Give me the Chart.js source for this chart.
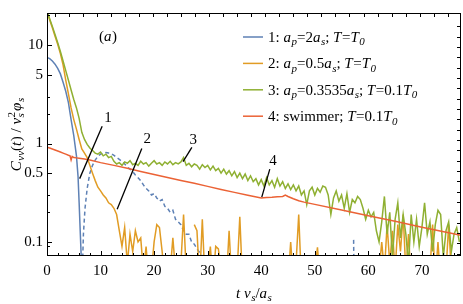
<!DOCTYPE html>
<html>
<head>
<meta charset="utf-8">
<title>Velocity autocorrelation</title>
<script src="https://cdn.jsdelivr.net/npm/chart.js@4.4.1/dist/chart.umd.min.js"></script>
<style>
  body { margin: 0; background: #fff; }
  canvas { display: block; }
</style>
</head>
<body>
<canvas id="vacfChart" width="463" height="304"></canvas>
<script>
// ---- values ----
const xTicks = [0, 10, 20, 30, 40, 50, 60, 70];
const yTicks = [0.1, 0.5, 1, 5, 10];
const yMinorTicks = [0.09, 0.2, 0.3, 2, 3, 20];

// 1: a_p = 2a_s; T = T0  (solid part, then |C| dashed where it goes negative)
const s1T = [0, 0.5, 1, 1.5, 2, 2.5, 3, 3.5, 4, 4.5, 5, 5.5, 5.8, 6.0, 6.2, 6.5];
const s1V = [7.5, 7.3, 6.9, 6.4, 5.8, 5.1, 4.2, 3.4, 2.6, 1.75, 1.2, 0.75, 0.46, 0.25, 0.13, 0.05];
const s1DashT = [6.6, 6.8, 7.1, 7.5, 8, 8.5, 9, 9.5, 10, 10.5, 11, 11.5, 12, 12.5, 13, 13.5, 14, 14.5,
  15, 15.5, 16, 16.5, 17, 17.5, 18, 18.5, 19, 19.5, 20, 20.5, 21, 21.5, 22, 22.5, 23, 23.5, 24, 24.5,
  25, 25.5, 26, 26.5, 27, 27.5, 28, 28.5, 29, 29.5, 30, 57.25, 57.3];
const s1DashV = [0.05, 0.12, 0.22, 0.35, 0.5, 0.6, 0.68, 0.74, 0.78, 0.8, 0.81, 0.8, 0.79, 0.76, 0.72, 0.69, 0.66, 0.62,
  0.58, 0.55, 0.52, 0.48, 0.45, 0.42, 0.38, 0.35, 0.33, 0.3, 0.31, 0.28, 0.26, 0.27, 0.23, 0.22, 0.2, 0.21, 0.17, 0.16,
  0.15, 0.13, 0.12, 0.12, 0.1, 0.095, 0.085, 0.078, 0.072, 0.06, null, 0.105, 0.06];

// 2: a_p = 0.5a_s; T = T0  (smooth head, then noisy tail sampled every 0.5)
const s2T = [0, 0.5, 1, 1.5, 2, 2.5, 3, 3.5, 4, 4.5, 5, 5.5, 6, 6.5, 7, 7.5, 8, 8.5, 9, 9.5, 10, 10.5, 11, 11.5, 12, 12.5];
const s2V = [22, 18, 15, 12.3, 10.2, 8.2, 6.3, 4.4, 3.2, 2.3, 1.75, 1.4, 1.1, 0.88, 0.8, 0.72, 0.6, 0.5, 0.42, 0.36,
  0.33, 0.3, 0.28, 0.25, 0.24, 0.22];
const s2TailStart = 13;
const s2Tail = [
  0.19, 0.13, 0.09, 0.14, 0.06, 0.12, 0.08, 0.13, 0.10, 0.11,
  0.05, 0.09, 0.04, 0.05, 0.10, 0.15, 0.14, 0.08, 0.04, 0.04,
  0.05, 0.11, 0.05, 0.04, 0.06, 0.19, 0.05, 0.04, null, 0.15,
  0.13, 0.04, 0.17, 0.04, 0.05, 0.09, 0.04, 0.09, 0.085, 0.05,
  0.04, 0.04, 0.13, 0.04, 0.04, 0.05, 0.18, 0.04, 0.04, 0.03,
  0.04, 0.05, 0.04, 0.03, 0.04, 0.05, 0.04, 0.03, 0.04, 0.05,
  0.04, 0.03, 0.04, 0.05, 0.04, 0.10, 0.04, 0.06, 0.19, 0.04,
  0.03, 0.04, 0.05, 0.04, 0.05, 0.088, 0.04, 0.03, 0.04, 0.05,
  0.04, 0.03, 0.04, 0.05, 0.04, 0.03, 0.04, 0.05, 0.04, 0.03,
  0.04, 0.05, 0.04, 0.03, 0.04, 0.05, 0.04, 0.03, 0.05, 0.10,
  0.05, 0.15, 0.06, 0.13, 0.05, 0.15, 0.08, 0.19, 0.05, 0.12,
  0.04, 0.03, 0.04, 0.05, 0.04, 0.03, 0.04, 0.05, 0.15, 0.04,
  0.10, 0.04, 0.03, 0.05, 0.15, 0.05, 0.04, 0.03, 0.04
];

// 3: a_p = 0.3535a_s; T = 0.1T0
const s3T = [0, 0.5, 1, 1.5, 2, 2.5, 3, 3.5, 4, 4.5, 5, 5.5, 6, 6.5, 7, 7.5, 8, 8.5, 9, 9.5, 10, 10.5, 11, 11.5, 12];
const s3V = [22, 18.5, 15.5, 12.8, 10.6, 8.6, 6.9, 5.5, 4.4, 3.5, 2.8, 2.3, 1.8, 1.3, 1.1, 0.98, 0.9, 0.85, 0.8, 0.78,
  0.82, 0.75, 0.78, 0.72, 0.74];
const s3TailStart = 12.5;
const s3Tail = [
  0.66, 0.62, 0.64, 0.60, 0.65, 0.63, 0.67, 0.61, 0.63, 0.60,
  0.66, 0.62, 0.64, 0.59, 0.63, 0.67, 0.62, 0.64, 0.60, 0.65,
  0.62, 0.66, 0.61, 0.64, 0.62, 0.65, 0.72, 0.60, 0.63, 0.58,
  0.62, 0.60, 0.55, 0.61, 0.57, 0.60, 0.54, 0.59, 0.53, 0.56,
  0.50, 0.55, 0.49, 0.53, 0.47, 0.52, 0.45, 0.50, 0.44, 0.49,
  0.42, 0.47, 0.41, 0.44, 0.38, 0.43, 0.37, 0.45, 0.38, 0.42,
  0.36, 0.44, 0.37, 0.41, 0.35, 0.39, 0.34, 0.38, 0.33, 0.37,
  0.30, 0.33, 0.24, 0.33, 0.36, 0.30, 0.35, 0.32, 0.37, 0.36,
  0.30, 0.19, 0.28, 0.33, 0.26, 0.30, 0.22, 0.31, 0.20, 0.27,
  0.25, 0.29, 0.27, 0.22, 0.17, 0.21, 0.18, 0.20, 0.13, 0.10,
  0.16, 0.29, 0.12, 0.20, 0.07, 0.17, 0.25, 0.11, 0.19, 0.12,
  0.06, 0.19, 0.10, 0.17, 0.09, 0.14, 0.25, 0.12, 0.16, 0.08,
  0.15, 0.21, 0.19, 0.07, 0.13, 0.16, 0.08, 0.12, 0.14, 0.10
];

// 4: swimmer; T = 0.1T0
const s4T = [0, 0.5, 1, 1.5, 2, 2.5, 3, 3.5, 4, 4.3, 4.5, 4.7, 5, 5.5, 6, 7, 8, 10, 12.5, 15, 17.5, 20, 22.5, 25,
  27.5, 30, 32.5, 35, 37.5, 40, 41, 42, 43, 44, 44.5, 45, 46, 47, 48, 50, 55, 60, 65, 70, 75, 77.3];
const s4V = [0.92, 0.9, 0.88, 0.86, 0.84, 0.82, 0.8, 0.78, 0.76, 0.75, 0.68, 0.74, 0.72, 0.715, 0.71, 0.695, 0.68,
  0.64, 0.6, 0.56, 0.52, 0.485, 0.452, 0.422, 0.394, 0.367, 0.342, 0.319, 0.298, 0.28, 0.283, 0.285, 0.288, 0.29,
  0.3, 0.29, 0.275, 0.262, 0.254, 0.241, 0.211, 0.185, 0.162, 0.141, 0.124, 0.117];

const tailStep = 0.5;

// numbered pointers: line from -> to, label placed at "at" (data coordinates)
const pointers = [
  { label: '1', from: [6.1, 0.44], to: [10.3, 1.5], at: [11.4, 1.8] },
  { label: '2', from: [13.1, 0.215], to: [17.7, 0.89], at: [18.7, 1.1] },
  { label: '3', from: [25.4, 0.655], to: [27.05, 0.915], at: [27.3, 1.08] },
  { label: '4', from: [40.1, 0.285], to: [41.6, 0.55], at: [42.2, 0.66] }
];

const colors = ['#5e81b5', '#e19c24', '#8fb032', '#eb6235'];

// legend texts as [text, kind] runs: r roman, i italic, b subscript
const legendRows = [
  [['1: ', 'r'], ['a', 'i'], ['p', 'b'], ['=2', 'r'], ['a', 'i'], ['s', 'b'], ['; ', 'r'], ['T', 'i'], ['=', 'r'], ['T', 'i'], ['0', 'b']],
  [['2: ', 'r'], ['a', 'i'], ['p', 'b'], ['=0.5', 'r'], ['a', 'i'], ['s', 'b'], ['; ', 'r'], ['T', 'i'], ['=', 'r'], ['T', 'i'], ['0', 'b']],
  [['3: ', 'r'], ['a', 'i'], ['p', 'b'], ['=0.3535', 'r'], ['a', 'i'], ['s', 'b'], ['; ', 'r'], ['T', 'i'], ['=0.1', 'r'], ['T', 'i'], ['0', 'b']],
  [['4: swimmer; ', 'r'], ['T', 'i'], ['=0.1', 'r'], ['T', 'i'], ['0', 'b']]
];
const yTitle = [['C', 'i'], ['vv', 'b'], ['(', 'r'], ['t', 'i'], [') / ', 'r'], ['v', 'i'], ['2|s', 'ss'], ['\u03c6', 'i'], ['s', 'b']];
const xTitle = [['t v', 'i'], ['s', 'b'], ['/', 'r'], ['a', 'i'], ['s', 'b']];

const SERIF = '"Liberation Serif", "Times New Roman", serif';

function pairPoints(ts, vs) {
  return ts.map((t, i) => ({ x: t, y: vs[i] }));
}

function tailPoints(t0, vals) {
  return vals.map((v, i) => ({ x: t0 + i * tailStep, y: v }));
}

// --- small rich-text helper (italics, subscripts) ---
function fontFor(kind, size) {
  const small = kind === 'b' || kind === 'ss';
  const italic = kind !== 'r';
  return (italic ? 'italic ' : '') + (small ? Math.round(size * 0.7) : size) + 'px ' + SERIF;
}

function runWidth(ctx, run, size) {
  const [txt, kind] = run;
  if (kind === 'ss') {
    const [sup, sub] = txt.split('|');
    ctx.font = fontFor('b', size);
    const w1 = ctx.measureText(sup).width;
    const w2 = ctx.measureText(sub).width;
    return Math.max(w1, w2) + 1;
  }
  ctx.font = fontFor(kind, size);
  return ctx.measureText(txt).width + (kind === 'i' ? 0.5 : 0);
}

function drawRich(ctx, runs, x, y, size, align) {
  let total = 0;
  runs.forEach(r => { total += runWidth(ctx, r, size); });
  let cx = align === 'center' ? x - total / 2 : x;
  ctx.textBaseline = 'alphabetic';
  ctx.textAlign = 'left';
  runs.forEach(r => {
    const [txt, kind] = r;
    const w = runWidth(ctx, r, size);
    if (kind === 'ss') {
      const [sup, sub] = txt.split('|');
      ctx.font = Math.round(size * 0.7) + 'px ' + SERIF;
      ctx.fillText(sup, cx, y - size * 0.38);
      ctx.font = fontFor('b', size);
      ctx.fillText(sub, cx, y + size * 0.22);
    } else {
      ctx.font = fontFor(kind, size);
      ctx.fillText(txt, cx, kind === 'b' ? y + size * 0.22 : y);
    }
    cx += w;
  });
}

// frame, inward ticks, pointers, legend and titles
const decorPlugin = {
  id: 'decor',
  afterDatasetsDraw(chart) {
    const { ctx, chartArea: a, scales: { x, y } } = chart;
    ctx.save();
    ctx.strokeStyle = '#000';
    ctx.lineWidth = 1;
    ctx.strokeRect(a.left + 0.5, a.top + 0.5, a.right - a.left - 1, a.bottom - a.top - 1);

    ctx.beginPath();
    // bottom ticks every 2 units
    for (let t = 0; t <= 77; t += 2) {
      const px = Math.round(x.getPixelForValue(t)) + 0.5;
      const len = t % 10 === 0 ? 5 : 3;
      ctx.moveTo(px, a.bottom);
      ctx.lineTo(px, a.bottom - len);
    }
    // top ticks
    for (let t = 1.46; t < 77.3; t += 2.62) {
      const px = Math.round(x.getPixelForValue(t)) + 0.5;
      ctx.moveTo(px, a.top);
      ctx.lineTo(px, a.top + 4);
    }
    // left ticks
    yTicks.concat(yMinorTicks).forEach(v => {
      const py = Math.round(y.getPixelForValue(v)) + 0.5;
      if (py < a.top || py > a.bottom) return;
      const len = yTicks.includes(v) ? 5 : 3;
      ctx.moveTo(a.left, py);
      ctx.lineTo(a.left + len, py);
    });
    // right ticks
    for (let k = 0; k < 30; k++) {
      const py = Math.round(y.getPixelForValue(Math.pow(10, 1.19 - 0.105 * k))) + 0.5;
      if (py < a.top || py > a.bottom) continue;
      ctx.moveTo(a.right, py);
      ctx.lineTo(a.right - 4, py);
    }
    ctx.stroke();

    // numbered pointers
    ctx.lineWidth = 1.3;
    ctx.fillStyle = '#000';
    pointers.forEach(p => {
      ctx.beginPath();
      ctx.moveTo(x.getPixelForValue(p.from[0]), y.getPixelForValue(p.from[1]));
      ctx.lineTo(x.getPixelForValue(p.to[0]), y.getPixelForValue(p.to[1]));
      ctx.stroke();
      ctx.font = '15px ' + SERIF;
      ctx.textAlign = 'center';
      ctx.textBaseline = 'middle';
      ctx.fillText(p.label, x.getPixelForValue(p.at[0]), y.getPixelForValue(p.at[1]));
    });

    // panel label (a)
    drawRich(ctx, [['(', 'r'], ['a', 'i'], [')', 'r']], 108, 41, 15, 'center');

    // legend
    legendRows.forEach((row, i) => {
      const ly = 37 + i * 26.4;
      ctx.strokeStyle = colors[i];
      ctx.lineWidth = 1.5;
      ctx.beginPath();
      ctx.moveTo(243, ly);
      ctx.lineTo(263, ly);
      ctx.stroke();
      ctx.fillStyle = '#000';
      drawRich(ctx, row, 268, ly + 5, 15, 'left');
    });

    // axis titles
    drawRich(ctx, xTitle, (a.left + a.right) / 2, 298, 15, 'center');
    ctx.translate(21, (a.top + a.bottom) / 2);
    ctx.rotate(-Math.PI / 2);
    drawRich(ctx, yTitle, 0, 0, 15, 'center');
    ctx.restore();
  }
};

function lineSet(label, data, color, order, dash) {
  return {
    label: label,
    data: data,
    borderColor: color,
    borderWidth: 1.5,
    borderDash: dash || [],
    pointRadius: 0,
    tension: 0,
    spanGaps: false,
    order: order
  };
}

function initializeChart() {
  const ctx = document.getElementById('vacfChart').getContext('2d');
  new Chart(ctx, {
    type: 'line',
    data: {
      datasets: [
        lineSet('4', pairPoints(s4T, s4V), colors[3], 0),
        lineSet('3', pairPoints(s3T, s3V).concat(tailPoints(s3TailStart, s3Tail)), colors[2], 1),
        lineSet('2', pairPoints(s2T, s2V).concat(tailPoints(s2TailStart, s2Tail)), colors[1], 2),
        lineSet('1', pairPoints(s1T, s1V), colors[0], 3),
        lineSet('1 negative', pairPoints(s1DashT, s1DashV), colors[0], 4, [4, 3])
      ]
    },
    options: {
      responsive: false,
      animation: false,
      devicePixelRatio: 1,
      layout: { padding: { top: 1, right: 2, left: 0, bottom: 0 } },
      plugins: { legend: { display: false }, tooltip: { enabled: false } },
      scales: {
        x: {
          type: 'linear',
          min: 0,
          max: 77.3,
          bounds: 'data',
          grid: { display: false, drawTicks: false },
          border: { display: false },
          afterBuildTicks: s => { s.ticks = xTicks.map(v => ({ value: v })); },
          afterFit: s => { s.height = 48; },
          ticks: {
            autoSkip: false,
            maxRotation: 0,
            padding: 6,
            color: '#000',
            font: { family: SERIF, size: 15 },
            callback: v => String(v)
          }
        },
        y: {
          type: 'logarithmic',
          min: 0.072,
          max: 21.2,
          bounds: 'data',
          grid: { display: false, drawTicks: false },
          border: { display: false },
          afterBuildTicks: s => { s.ticks = yTicks.map(v => ({ value: v })); },
          afterFit: s => { s.width = 47; },
          ticks: {
            autoSkip: false,
            padding: 4,
            color: '#000',
            font: { family: SERIF, size: 15 },
            callback: v => String(v)
          }
        }
      }
    },
    plugins: [decorPlugin]
  });
}

document.addEventListener('DOMContentLoaded', () => {
  initializeChart();
});
</script>
</body>
</html>
